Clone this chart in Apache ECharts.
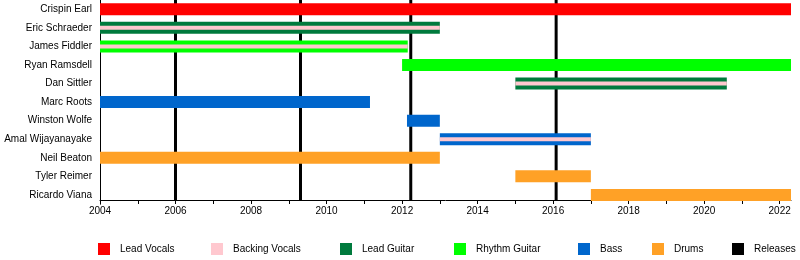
<!DOCTYPE html>
<html>
<head>
<meta charset="utf-8">
<script src="https://cdn.jsdelivr.net/npm/echarts@6/dist/echarts.min.js"></script>
<style>html,body{margin:0;padding:0;background:#fff}#chart{width:800px;height:260px}</style>
</head>
<body>
<div id="chart"></div>
<script>
// ---- data ----
const members = ['Crispin Earl','Eric Schraeder','James Fiddler','Ryan Ramsdell','Dan Sittler','Marc Roots','Winston Wolfe','Amal Wijayanayake','Neil Beaton','Tyler Reimer','Ricardo Viana'];
const leadVocals = [['Crispin Earl', 2004, 2022.3]];
const leadGuitar = [['Eric Schraeder', 2004, 2013.0], ['Dan Sittler', 2015.0, 2020.6]];
const rhythmGuitar = [['James Fiddler', 2004, 2012.15], ['Ryan Ramsdell', 2012.0, 2022.3]];
const bass = [['Marc Roots', 2004, 2011.15], ['Winston Wolfe', 2012.13, 2013.0], ['Amal Wijayanayake', 2013.0, 2017.0]];
const drums = [['Neil Beaton', 2004, 2013.0], ['Tyler Reimer', 2015.0, 2017.0], ['Ricardo Viana', 2017.0, 2022.3]];
const backingVocals = [['Eric Schraeder', 2004, 2013.0], ['James Fiddler', 2004, 2012.15], ['Dan Sittler', 2015.0, 2020.6], ['Amal Wijayanayake', 2013.0, 2017.0]];
const releases = [2006.0, 2009.31, 2012.23, 2016.08];
const yearTicks = [2004,2005,2006,2007,2008,2009,2010,2011,2012,2013,2014,2015,2016,2017,2018,2019,2020,2021,2022];
const yearLabels = [2004,2006,2008,2010,2012,2014,2016,2018,2020,2022];
const xMin = 2004, xMax = 2022.3;

// ---- layout / style ----
const AXIS_SHIFT = 4.2;
const FONT = '"Liberation Sans", Arial, sans-serif';

function toRows(spans){ return spans.map(s => [members.indexOf(s[0]), s[1], s[2]]); }
function spanRender(h){
  return function(params, api){
    const row = api.value(0);
    const a = api.coord([api.value(1), row]);
    const b = api.coord([api.value(2), row]);
    return {type:'rect', shape:{x:a[0], y:a[1]-h/2, width:b[0]-a[0], height:h}, style:{fill: api.visual('color')}};
  };
}
function spanSeries(name, spans, color, h, z){
  return {name, type:'custom', renderItem: spanRender(h), data: toRows(spans),
    encode:{x:[1,2], y:0}, itemStyle:{color}, z, silent:true};
}

const legendPos = [['Lead Vocals',98],['Backing Vocals',211],['Lead Guitar',340],['Rhythm Guitar',454],['Bass',578],['Drums',652],['Releases',732]];

const chart = echarts.init(document.getElementById('chart'), null, {renderer:'canvas'});
chart.setOption({
  backgroundColor:'#fff',
  animation:false,
  grid:{left:100, right:9, top:-3.1, height:207.3},
  legend: legendPos.map(p => ({
    data:[p[0]], left:p[1], top:243, padding:0, itemWidth:12, itemHeight:12, icon:'rect',
    selectedMode:false,
    textStyle:{fontSize:10, color:'#000', fontFamily:FONT, padding:[0,0,0,5]}
  })),
  xAxis:{
    type:'value', min:xMin, max:xMax, offset:-AXIS_SHIFT,
    splitLine:{show:false},
    axisLine:{show:true, lineStyle:{color:'#000', width:1}},
    axisTick:{show:true, length:4, lineStyle:{color:'#000'}, customValues: yearTicks},
    axisLabel:{fontSize:10, color:'#000', fontFamily:FONT, margin:6, customValues: yearLabels, formatter: v => String(v)}
  },
  yAxis:{
    type:'category', data:members, inverse:true,
    axisLine:{show:true, lineStyle:{color:'#000', width:1}},
    axisTick:{show:false},
    splitLine:{show:false},
    axisLabel:{fontSize:10, color:'#000', fontFamily:FONT, margin:8, interval:0}
  },
  series:[
    {name:'Releases', type:'custom', z:1, silent:true, itemStyle:{color:'#000'},
     data: releases.map(v => [v]), encode:{x:0},
     renderItem: function(params, api){
       const x = api.coord([api.value(0), 0])[0];
       const cs = params.coordSys;
       return {type:'line', shape:{x1:x, y1:cs.y, x2:x, y2:cs.y+cs.height-AXIS_SHIFT}, style:{stroke:'#000', lineWidth:3}};
     }},
    spanSeries('Lead Vocals', leadVocals, '#ff0000', 12, 2),
    spanSeries('Lead Guitar', leadGuitar, '#007a3d', 12, 2),
    spanSeries('Rhythm Guitar', rhythmGuitar, '#00ff00', 12, 2),
    spanSeries('Bass', bass, '#0066cc', 12, 2),
    spanSeries('Drums', drums, '#ffa126', 12, 2),
    spanSeries('Backing Vocals', backingVocals, '#ffc8cf', 4, 3)
  ]
});
</script>
</body>
</html>
